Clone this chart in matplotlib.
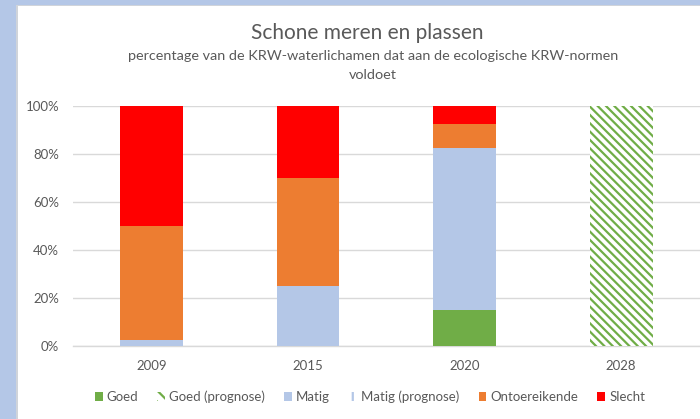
import matplotlib
matplotlib.use("Agg")
import matplotlib.pyplot as plt
from matplotlib.patches import Rectangle, Patch
import numpy as np

plt.rcParams['font.family'] = ['Lato', 'DejaVu Sans']
plt.rcParams['hatch.linewidth'] = 1.6

years = ["2009", "2015", "2020", "2028"]
goed = [0, 0, 15, 0]
goed_prognose = [0, 0, 0, 100]
matig = [2.7, 25, 67.5, 0]
matig_prognose = [0, 0, 0, 0]
ontoereikende = [47.3, 45, 10, 0]
slecht = [50, 30, 7.5, 0]
yticks = [0, 20, 40, 60, 80, 100]
ytick_labels = ["0%", "20%", "40%", "60%", "80%", "100%"]

GREEN = "#70AD47"
BLUE = "#B4C7E7"
ORANGE = "#ED7D31"
RED = "#FF0000"
GRAY = "#595959"
GRID = "#D9D9D9"

W, H = 700, 419
fig = plt.figure(figsize=(7, 4.19), dpi=100)

# frame (light blue border on left/top)
fig.patches.append(Rectangle((0, 0), 16 / W, 1, transform=fig.transFigure,
                             facecolor=BLUE, edgecolor='none', zorder=0))
fig.patches.append(Rectangle((0, 1 - 5 / H), 1, 5 / H, transform=fig.transFigure,
                             facecolor=BLUE, edgecolor='none', zorder=0))
fig.patches.append(Rectangle((16 / W, 0), 1.5 / W, 1 - 5 / H, transform=fig.transFigure,
                             facecolor="#D0D4DA", edgecolor='none', zorder=0))
fig.patches.append(Rectangle((16 / W, 1 - 6.5 / H), 1, 1.5 / H, transform=fig.transFigure,
                             facecolor="#D0D4DA", edgecolor='none', zorder=0))

ax = fig.add_axes([73 / W, (H - 346) / H, (699.5 - 73) / W, (346 - 105.7) / H])
x = np.arange(len(years))
bw = 0.4

series = [
    (goed, dict(color=GREEN), "Goed"),
    (goed_prognose, dict(facecolor="white", edgecolor=GREEN, hatch="\\\\\\\\", linewidth=0), "Goed (prognose)"),
    (matig, dict(color=BLUE), "Matig"),
    (matig_prognose, dict(facecolor="white", edgecolor=BLUE, hatch="||", linewidth=0), "Matig (prognose)"),
    (ontoereikende, dict(color=ORANGE), "Ontoereikende"),
    (slecht, dict(color=RED), "Slecht"),
]
bottom = np.zeros(len(years))
for vals, style, label in series:
    v = np.array(vals, dtype=float)
    ax.bar(x, v, bw, bottom=bottom, zorder=3, **style)
    bottom += v

ax.set_xlim(-0.5, len(years) - 0.5)
ax.set_ylim(0, 100)
ax.set_yticks(yticks)
ax.set_yticklabels(ytick_labels)
ax.set_xticks(x)
ax.set_xticklabels(years)
ax.tick_params(axis='both', length=0, colors=GRAY, labelsize=9.5)
ax.tick_params(axis='x', pad=10)
ax.tick_params(axis='y', pad=10)
ax.grid(axis='y', color=GRID, linewidth=1.0, zorder=0)
for s in ['top', 'right', 'left']:
    ax.spines[s].set_visible(False)
ax.spines['bottom'].set_color(GRID)
ax.spines['bottom'].set_linewidth(1.0)
ax.set_axisbelow(True)

fig.text(367 / W, 1 - 33 / H, "Schone meren en plassen", ha='center', va='center',
         fontsize=15, color=GRAY)
fig.text(373 / W, 1 - 56 / H, "percentage van de KRW-waterlichamen dat aan de ecologische KRW-normen",
         ha='center', va='center', fontsize=10.4, color=GRAY)
fig.text(373 / W, 1 - 75 / H, "voldoet", ha='center', va='center', fontsize=10.4, color=GRAY)

handles = [
    Patch(facecolor=GREEN, edgecolor='none'),
    Patch(facecolor="white", edgecolor=GREEN, hatch="\\\\\\", linewidth=0),
    Patch(facecolor=BLUE, edgecolor='none'),
    Patch(facecolor="white", edgecolor=BLUE, hatch="|||", linewidth=0),
    Patch(facecolor=ORANGE, edgecolor='none'),
    Patch(facecolor=RED, edgecolor='none'),
]
labels = [s[2] for s in series]
leg = fig.legend(handles, labels, loc='center', bbox_to_anchor=(370 / W, 1 - 397 / H),
                 ncol=6, frameon=False, fontsize=9.5, handlelength=0.6, handleheight=0.6,
                 handletextpad=0.3, columnspacing=1.45, labelcolor=GRAY)

fig.savefig("out.png", dpi=100, facecolor="white")
